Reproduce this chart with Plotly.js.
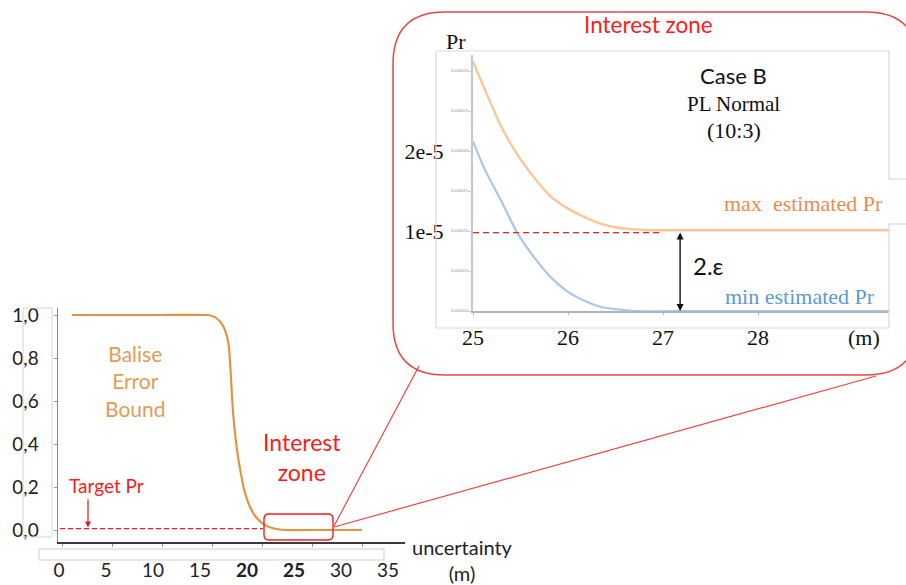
<!DOCTYPE html>
<html>
<head>
<meta charset="utf-8">
<script src="https://cdn.plot.ly/plotly-3.0.1.min.js"></script>
<style>html,body{margin:0;padding:0;background:#fff;}#chart{width:906px;height:585px;}</style>
</head>
<body>
<div id="chart"></div>
<script>
// ---------- data ----------
const boundX = [1, 5, 10, 14.6, 15.3, 15.8, 16.2, 16.5, 16.7, 16.85, 17.0, 17.15, 17.35, 17.6, 17.9, 18.2, 18.6, 19.1, 19.7, 20.5, 21.3, 22.3, 25, 30];
const boundY = [1, 1, 1, 1, 0.99, 0.97, 0.94, 0.90, 0.85, 0.75, 0.62, 0.52, 0.43, 0.34, 0.26, 0.19, 0.13, 0.08, 0.045, 0.018, 0.006, 0.0, 0.0, 0.0];
const targetX = [-0.2, 20.1];
const targetY = [0.006, 0.006];

const maxX = [25, 25.12, 25.30, 25.47, 25.65, 25.82, 26.0, 26.18, 26.35, 26.53, 26.70, 26.88, 27.05, 28, 29.4];
const maxY = [3.12e-5, 2.78e-5, 2.30e-5, 1.95e-5, 1.66e-5, 1.43e-5, 1.28e-5, 1.17e-5, 1.09e-5, 1.04e-5, 1.02e-5, 1.01e-5, 1.01e-5, 1.01e-5, 1.01e-5];
const minX = [25, 25.12, 25.30, 25.47, 25.65, 25.82, 26.0, 26.18, 26.35, 26.53, 26.70, 27.5, 29.4];
const minY = [2.12e-5, 1.78e-5, 1.37e-5, 0.97e-5, 0.66e-5, 0.42e-5, 0.24e-5, 0.125e-5, 0.05e-5, 0.02e-5, 0.0, 0.0, 0.0];
const zoomTargetX = [25, 27.0];
const zoomTargetY = [0.98e-5, 0.98e-5];

const mainXTicks = [0, 5, 10, 15, 20, 25, 30];
const mainXLabelVals = [0, 5, 10, 15, 20, 25, 30, 35];
const mainXLabelText = ['0', '5', '10', '15', '<b>20</b>', '<b>25</b>', '30', '35'];
const mainYTicks = [0, 0.2, 0.4, 0.6, 0.8, 1.0];
const mainYText = ['0,0', '0,2', '0,4', '0,6', '0,8', '1,0'];
const zoomXTicks = [25, 26, 27, 28];
const zoomXText = ['25', '26', '27', '28'];
const zoomYTicks = [0, 0.5e-5, 1e-5, 1.5e-5, 2e-5, 2.5e-5, 3e-5];
const zoomYText = ['', '', '1e-5', '', '2e-5', '', ''];
const zoomYTiny = ['0.000000', '0.000005', '0.000010', '0.000015', '0.000020', '0.000025', '0.000030'];

// ---------- helpers (pixel -> paper) ----------
const W = 906, H = 585;
const px = x => x / W;
const py = y => 1 - y / H;

const SANS = 'Lato, "Open Sans", sans-serif';
const SERIF = '"Liberation Serif", "DejaVu Serif", serif';
const RED = '#ff1a1a';

function roundRect(L, T, R, B, r) {
  return `M ${px(L + r)} ${py(T)} L ${px(R - r)} ${py(T)} Q ${px(R)} ${py(T)} ${px(R)} ${py(T + r)} ` +
         `L ${px(R)} ${py(B - r)} Q ${px(R)} ${py(B)} ${px(R - r)} ${py(B)} ` +
         `L ${px(L + r)} ${py(B)} Q ${px(L)} ${py(B)} ${px(L)} ${py(B - r)} ` +
         `L ${px(L)} ${py(T + r)} Q ${px(L)} ${py(T)} ${px(L + r)} ${py(T)} Z`;
}
function seg(x0, y0, x1, y1, color, width) {
  return {type: 'line', xref: 'paper', yref: 'paper', x0: px(x0), y0: py(y0), x1: px(x1), y1: py(y1),
          line: {color: color, width: width}};
}

const traces = [
  {x: boundX, y: boundY, xaxis: 'x', yaxis: 'y', mode: 'lines', line: {color: '#e39443', width: 2.2, shape: 'spline', smoothing: 0.4}, hoverinfo: 'skip'},
  {x: targetX, y: targetY, xaxis: 'x', yaxis: 'y', mode: 'lines', line: {color: RED, width: 1.3, dash: '5px,3px'}, hoverinfo: 'skip'},
  {x: mainXLabelVals, y: mainXLabelVals.map(() => null), xaxis: 'x3', yaxis: 'y', mode: 'lines', hoverinfo: 'skip'},
  {x: maxX, y: maxY, xaxis: 'x2', yaxis: 'y2', mode: 'lines', line: {color: '#fcc697', width: 2.4, shape: 'spline', smoothing: 0.8}, hoverinfo: 'skip'},
  {x: minX, y: minY, xaxis: 'x2', yaxis: 'y2', mode: 'lines', line: {color: '#a9c8e6', width: 2.2, shape: 'spline', smoothing: 0.8}, hoverinfo: 'skip'},
  {x: zoomTargetX, y: zoomTargetY, xaxis: 'x2', yaxis: 'y2', mode: 'lines', line: {color: RED, width: 1.4, dash: '6px,4px'}, hoverinfo: 'skip'},
  {x: zoomXTicks, y: zoomXTicks.map(() => null), xaxis: 'x2', yaxis: 'y4', mode: 'lines', hoverinfo: 'skip'}
];

const layout = {
  width: W, height: H,
  margin: {l: 0, r: 0, t: 0, b: 0, pad: 0},
  paper_bgcolor: '#ffffff', plot_bgcolor: 'rgba(0,0,0,0)',
  showlegend: false,
  font: {family: SANS, color: '#222'},
  xaxis: {
    domain: [px(58), px(405)], range: [-0.4, 34.3], anchor: 'y',
    showgrid: false, zeroline: false, showline: true, linecolor: '#3a3a3a', linewidth: 1.5,
    tickmode: 'array', tickvals: mainXTicks, ticks: 'outside', ticklen: 3, tickcolor: '#999', showticklabels: false
  },
  yaxis: {
    domain: [py(542), py(308)], range: [(530 - 542) / 215, (530 - 308) / 215], anchor: 'x',
    showgrid: false, zeroline: false, showline: true, linecolor: '#888', linewidth: 1.5,
    tickmode: 'array', tickvals: mainYTicks, ticktext: mainYText, ticks: 'outside', ticklen: 3, tickcolor: '#999',
    tickfont: {family: SANS, size: 19, color: '#222'}, ticklabelstandoff: 11
  },
  xaxis3: {
    domain: [px(59), px(388)], range: [0, 35], anchor: 'free', position: py(557),
    showgrid: false, zeroline: false, showline: false, ticks: '',
    tickmode: 'array', tickvals: mainXLabelVals, ticktext: mainXLabelText,
    tickfont: {family: SANS, size: 19, color: '#222'}, ticklabelstandoff: 0
  },
  xaxis2: {
    domain: [px(473), px(889)], range: [25, 25 + (889 - 473) / 95], anchor: 'y2',
    showgrid: false, zeroline: false, showline: true, linecolor: '#aab6c3', linewidth: 1.5,
    tickmode: 'array', tickvals: zoomXTicks, ticktext: zoomXText, ticks: 'outside', ticklen: 2, tickcolor: '#bbb',
    tickfont: {family: SERIF, size: 22, color: '#111'}, ticklabelstandoff: 4
  },
  yaxis2: {
    domain: [py(311), py(55)], range: [0, (311 - 55) / 80 * 1e-5], anchor: 'x2',
    showgrid: false, zeroline: false, showline: true, linecolor: '#c6c6c6', linewidth: 2,
    tickmode: 'array', tickvals: zoomYTicks, ticktext: zoomYText, ticks: 'outside', ticklen: 3, tickcolor: '#ccc',
    tickfont: {family: SERIF, size: 22, color: '#111'}, ticklabelstandoff: 20
  },
  yaxis4: {
    overlaying: 'y2', anchor: 'x2', side: 'left', range: [0, (311 - 55) / 80 * 1e-5],
    showgrid: false, zeroline: false, showline: false, ticks: '',
    tickmode: 'array', tickvals: zoomYTicks, ticktext: zoomYTiny,
    tickfont: {family: SANS, size: 4, color: '#999'}, ticklabelstandoff: 4
  },
  shapes: [
    {type: 'rect', xref: 'paper', yref: 'paper', x0: px(23), y0: py(537), x1: px(52), y1: py(308), line: {color: '#d6d6d6', width: 1}},
    {type: 'rect', xref: 'paper', yref: 'paper', x0: px(39), y0: py(560), x1: px(384), y1: py(549), line: {color: '#cfcfcf', width: 1}},
    seg(436, 51, 889, 51, '#d9d9d9', 1.2),
    seg(436, 51, 436, 328, '#d9d9d9', 1.2),
    seg(436, 328, 889, 328, '#d9d9d9', 1.2),
    seg(889, 51, 889, 179, '#d9d9d9', 1.2),
    seg(889, 179, 906, 179, '#d9d9d9', 1.2),
    seg(889, 224, 906, 224, '#d9d9d9', 1.2),
    seg(889, 224, 889, 328, '#d9d9d9', 1.2),
    {type: 'path', xref: 'paper', yref: 'paper', path: roundRect(264, 514, 333, 540, 5), line: {color: RED, width: 1.4}},
    {type: 'path', xref: 'paper', yref: 'paper', path: roundRect(393, 12, 918, 375, 52), line: {color: '#e8474a', width: 1.5}},
    seg(334, 526, 419, 366, '#ee4444', 1.2),
    seg(334, 527, 876, 376, '#ee4444', 1.2)
  ],
  annotations: [
    {xref: 'paper', yref: 'paper', x: px(135), y: py(381), text: 'Balise<br>Error<br>Bound', showarrow: false,
     font: {family: SANS, size: 21, color: '#e39c58'}, xanchor: 'center', yanchor: 'middle'},
    {xref: 'paper', yref: 'paper', x: px(302), y: py(457), text: 'Interest<br>zone', showarrow: false,
     font: {family: SANS, size: 23, color: RED}, xanchor: 'center', yanchor: 'middle'},
    {xref: 'paper', yref: 'paper', x: px(106), y: py(485), text: 'Target Pr', showarrow: false,
     font: {family: SANS, size: 19, color: RED}, xanchor: 'center', yanchor: 'middle'},
    {xref: 'x', yref: 'y', x: 2.6, y: 0.012, ax: 2.6, ay: 0.15, axref: 'x', ayref: 'y', text: '', showarrow: true,
     arrowhead: 2, arrowsize: 1, arrowwidth: 1.2, arrowcolor: '#d91c1c'},
    {xref: 'paper', yref: 'paper', x: px(462), y: py(560), text: 'uncertainty<br>(m)', showarrow: false,
     font: {family: SANS, size: 20, color: '#222'}, xanchor: 'center', yanchor: 'middle'},
    {xref: 'paper', yref: 'paper', x: px(648), y: py(25), text: 'Interest zone', showarrow: false,
     font: {family: SANS, size: 22.5, color: RED}, xanchor: 'center', yanchor: 'middle'},
    {xref: 'paper', yref: 'paper', x: px(456), y: py(42), text: 'Pr', showarrow: false,
     font: {family: SERIF, size: 22, color: '#111'}, xanchor: 'center', yanchor: 'middle'},
    {xref: 'paper', yref: 'paper', x: px(733), y: py(75), text: 'Case B', showarrow: false,
     font: {family: SANS, size: 22, color: '#111'}, xanchor: 'center', yanchor: 'middle'},
    {xref: 'paper', yref: 'paper', x: px(733), y: py(104), text: 'PL Normal', showarrow: false,
     font: {family: SERIF, size: 21, color: '#111'}, xanchor: 'center', yanchor: 'middle'},
    {xref: 'paper', yref: 'paper', x: px(734), y: py(130), text: '(10:3)', showarrow: false,
     font: {family: SERIF, size: 22, color: '#111'}, xanchor: 'center', yanchor: 'middle'},
    {xref: 'paper', yref: 'paper', x: px(803), y: py(203), text: 'max&nbsp;&nbsp;estimated Pr', showarrow: false,
     font: {family: SERIF, size: 22, color: '#f08a4b'}, xanchor: 'center', yanchor: 'middle'},
    {xref: 'paper', yref: 'paper', x: px(800), y: py(296), text: 'min estimated Pr', showarrow: false,
     font: {family: SERIF, size: 22, color: '#5b9bd5'}, xanchor: 'center', yanchor: 'middle'},
    {xref: 'paper', yref: 'paper', x: px(708), y: py(266), text: '2.ε', showarrow: false,
     font: {family: SANS, size: 24, color: '#111'}, xanchor: 'center', yanchor: 'middle'},
    {xref: 'paper', yref: 'paper', x: px(864), y: py(338), text: '(m)', showarrow: false,
     font: {family: SERIF, size: 22, color: '#111'}, xanchor: 'center', yanchor: 'middle'},
    {xref: 'x2', yref: 'y2', x: 27.18, y: 0.0, ax: 27.18, ay: 1.0e-5, axref: 'x2', ayref: 'y2', text: '', showarrow: true,
     arrowhead: 2, startarrowhead: 2, arrowside: 'end+start', arrowsize: 1, arrowwidth: 1.4, arrowcolor: '#111'}
  ]
};

Plotly.newPlot('chart', traces, layout, {staticPlot: true, displayModeBar: false});
</script>
</body>
</html>
